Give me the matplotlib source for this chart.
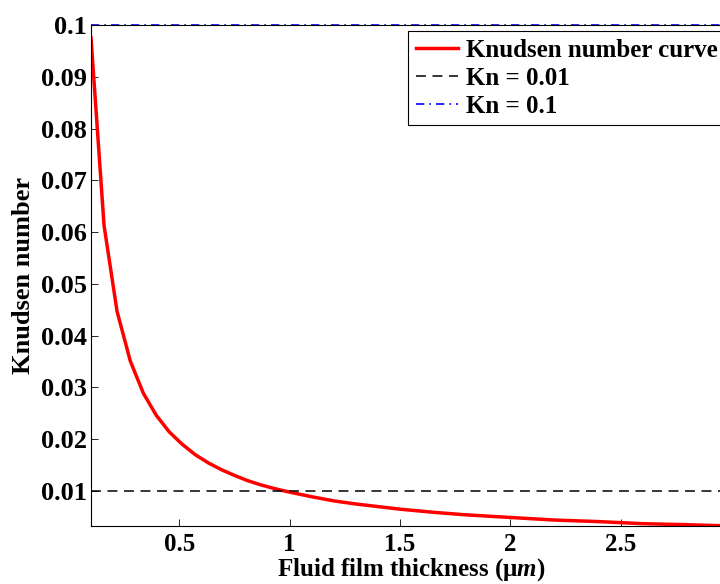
import matplotlib
matplotlib.use('Agg')
import matplotlib.pyplot as plt

plt.rcParams['font.family'] = ['Liberation Serif', 'DejaVu Serif']
plt.rcParams['font.weight'] = 'bold'
plt.rcParams['mathtext.fontset'] = 'custom'
plt.rcParams['mathtext.rm'] = 'Liberation Serif:bold'
plt.rcParams['mathtext.it'] = 'Liberation Serif:italic:bold'

# film thickness (um) and Knudsen number
h = [0.1, 0.159, 0.218, 0.278, 0.337, 0.396, 0.455, 0.514, 0.573, 0.633,
     0.692, 0.751, 0.81, 0.869, 0.929, 0.988, 1.1, 1.2, 1.3, 1.4, 1.5,
     1.65, 1.8, 2.0, 2.2, 2.4, 2.6, 2.8, 3.0]
kn = [0.0975, 0.0613, 0.0447, 0.0351, 0.0289, 0.0246, 0.0214, 0.0190, 0.0170, 0.0154,
      0.0141, 0.0130, 0.0120, 0.0112, 0.0105, 0.0099, 0.0089, 0.0081, 0.0075, 0.0070, 0.0065,
      0.0059, 0.0054, 0.0049, 0.0044, 0.0041, 0.0037, 0.0035, 0.00325]
kn_low = 0.01
kn_high = 0.1

xticks = [0.5, 1, 1.5, 2, 2.5]
yticks = [0.01, 0.02, 0.03, 0.04, 0.05, 0.06, 0.07, 0.08, 0.09, 0.1]

fig = plt.figure(figsize=(7.2, 5.84), dpi=100)
ax = fig.add_axes([0.1264, 0.0993, 0.889, 0.858])

ax.plot(h, kn, color='red', lw=2.5, label='Knudsen number curve')
ax.plot([h[0], h[-1]], [kn_low, kn_low], color='black', lw=1.1,
        dashes=(6.5, 4.3), label='Kn = 0.01')
ax.plot([h[0], h[-1]], [kn_high, kn_high], color='blue', lw=1.2,
        dashes=(5, 3, 1, 3), label='Kn = 0.1', clip_on=False)

ax.set_xlim(h[0], h[-1])
ax.set_ylim(kn[-1], kn_high)
ax.set_xticks(xticks)
ax.set_xticklabels(['0.5', '1', '1.5', '2', '2.5'])
ax.set_yticks(yticks)
ax.set_yticklabels(['0.01', '0.02', '0.03', '0.04', '0.05', '0.06', '0.07', '0.08', '0.09', '0.1'])
ax.tick_params(axis='both', direction='in', length=5, width=0.6, labelsize=19)
ax.tick_params(axis='x', pad=5, labelsize=18)
ax.tick_params(axis='y', pad=3)
for s in ax.spines.values():
    s.set_linewidth(0.8)

ax.set_xlabel('Fluid film thickness (μ$m$)', fontsize=18, fontweight='bold', labelpad=0)
ax.set_ylabel('Knudsen number', fontsize=19, fontweight='bold', labelpad=4)

leg = ax.legend(loc='upper right', fontsize=18, fancybox=False, framealpha=1,
                edgecolor='black', borderaxespad=0.25, handlelength=1.7,
                handletextpad=0.3, labelspacing=0.2, borderpad=0.3)
leg.get_frame().set_linewidth(0.8)

fig.savefig('out.png', dpi=100)
